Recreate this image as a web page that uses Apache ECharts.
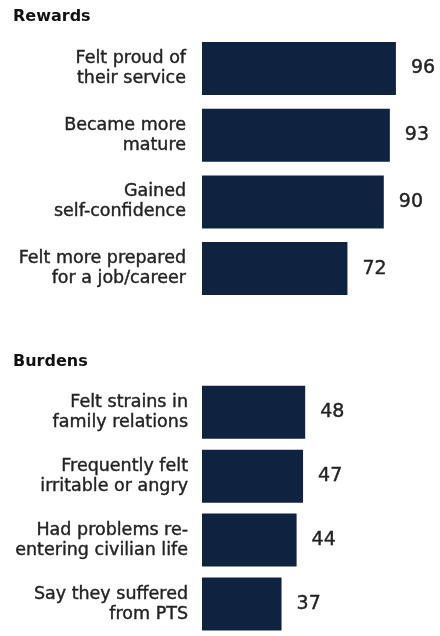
<!DOCTYPE html>
<html>
<head>
<meta charset="utf-8">
<script src="https://cdn.jsdelivr.net/npm/echarts@6/dist/echarts.min.js"></script>
<style>
html,body{margin:0;padding:0;background:#fff;}
#chart{width:440px;height:636px;}
</style>
</head>
<body>
<div id="chart"></div>
<script>
var rewardCategories = ["Felt proud of\ntheir service", "Became more\nmature", "Gained\nself-confidence", "Felt more prepared\nfor a job/career"];
var rewardValues = [96, 93, 90, 72];
var burdenCategories = ["Felt strains in\nfamily relations", "Frequently felt\nirritable or angry", "Had problems re-\nentering civilian life", "Say they suffered\nfrom PTS"];
var burdenValues = [48, 47, 44, 37];
var groupTitles = ["Rewards", "Burdens"];

var FONT = "DejaVu Sans";
var BAR = "#0f2240";
var TEXT = "#222222";

var chart = echarts.init(document.getElementById('chart'), null, {renderer: 'canvas'});

function yAxisFor(idx, cats, margin) {
  return {
    type: 'category', gridIndex: idx, data: cats, inverse: true,
    axisLine: {show: false}, axisTick: {show: false}, splitLine: {show: false},
    axisLabel: {
      color: TEXT, fontFamily: FONT, fontSize: 17.5, lineHeight: 20,
      align: 'right', margin: margin,
      textBorderColor: TEXT, textBorderWidth: 0.4
    }
  };
}
function xAxisFor(idx) {
  return {type: 'value', gridIndex: idx, min: 0, max: 100, show: false,
    splitLine: {show: false}};
}
function seriesFor(idx, vals) {
  return {
    type: 'bar', xAxisIndex: idx, yAxisIndex: idx, data: vals,
    barWidth: 53, itemStyle: {color: BAR}, silent: true,
    label: {show: true, position: 'right', distance: 15,
      color: TEXT, fontFamily: FONT, fontSize: 19,
      textBorderColor: TEXT, textBorderWidth: 0.4}
  };
}

chart.setOption({
  animation: false,
  backgroundColor: '#fff',
  grid: [
    {left: 202, top: 35.2, width: 202, height: 266.7, containLabel: false},
    {left: 202, top: 380.2, width: 215, height: 266.7, containLabel: false}
  ],
  xAxis: [xAxisFor(0), xAxisFor(1)],
  yAxis: [yAxisFor(0, rewardCategories, 16), yAxisFor(1, burdenCategories, 14)],
  series: [seriesFor(0, rewardValues), seriesFor(1, burdenValues)],
  graphic: [
    {type: 'text', left: 13, top: 9, style: {text: groupTitles[0], fill: '#111', font: 'bold 16px "DejaVu Sans"'}},
    {type: 'text', left: 13, top: 354, style: {text: groupTitles[1], fill: '#111', font: 'bold 16px "DejaVu Sans"'}}
  ]
});
</script>
</body>
</html>
